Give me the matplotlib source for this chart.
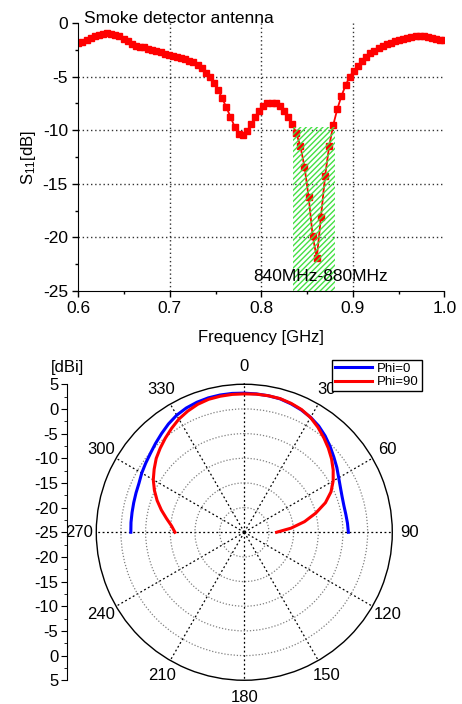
import numpy as np
import matplotlib
matplotlib.use("Agg")
import matplotlib.pyplot as plt
from matplotlib.patches import Rectangle
from matplotlib.ticker import MultipleLocator

plt.rcParams['font.family'] = ['Liberation Sans', 'DejaVu Sans']
plt.rcParams['mathtext.fontset'] = 'custom'
plt.rcParams['mathtext.rm'] = 'Liberation Sans'
plt.rcParams['mathtext.it'] = 'Liberation Sans:italic'
plt.rcParams['axes.unicode_minus'] = False
plt.rcParams['hatch.linewidth'] = 1.0

# --- S11 sweep (0.6-1.0 GHz, 90 points) ---
freq_ghz = np.linspace(0.6, 1.0, 90)
s11_db = [
    -1.90, -1.75, -1.60, -1.42, -1.25, -1.10, -0.98, -0.95, -0.98, -1.08,
    -1.25, -1.45, -1.70, -1.95, -2.12, -2.20, -2.28, -2.38, -2.50, -2.60,
    -2.72, -2.85, -2.97, -3.08, -3.20, -3.30, -3.40, -3.50, -3.65, -3.90,
    -4.23, -4.64, -5.07, -5.63, -6.25, -7.03, -7.87, -8.74, -9.67, -10.38,
    -10.45, -10.07, -9.45, -8.74, -8.18, -7.74, -7.49, -7.43, -7.49, -7.74,
    -8.18, -8.74, -9.43, -10.27, -11.50, -13.40, -16.20, -19.90, -21.90, -18.10,
    -14.30, -11.50, -9.50, -8.00, -6.80, -5.80, -5.00, -4.45, -3.98, -3.50,
    -3.14, -2.83, -2.58, -2.36, -2.15, -1.98, -1.86, -1.72, -1.58, -1.46,
    -1.37, -1.30, -1.24, -1.21, -1.23, -1.28, -1.36, -1.45, -1.55, -1.62,
]
band_ghz = [0.835, 0.8805]
band_top_db = -9.7
band_label = "840MHz-880MHz"
title_text = "Smoke detector antenna"

# --- radiation pattern (dBi) ---
theta_deg = list(range(-90, 95, 5))
phi0_dbi = [
    -2.00, -1.95, -1.90, -1.80, -1.65, -1.45, -1.00, -0.60, -0.15, 0.45,
    1.10, 1.80, 2.40, 2.80, 3.05, 3.20, 3.25, 3.25, 3.20, 3.15,
    3.10, 3.00, 2.70, 2.35, 1.90, 1.30, 0.50, -0.40, -1.30, -2.10,
    -2.90, -3.50, -3.90, -4.10, -4.10, -4.00, -3.90,
]
phi90_dbi = [
    -10.95, -10.20, -9.00, -7.60, -6.20, -4.90, -3.70, -2.70, -1.70, -0.90,
    -0.10, 0.70, 1.50, 2.10, 2.60, 2.90, 3.00, 3.05, 3.05, 3.10,
    3.10, 3.05, 2.80, 2.45, 1.85, 1.00, 0.05, -0.90, -1.90, -3.00,
    -4.20, -5.60, -7.50, -10.00, -12.60, -15.50, -18.45,
]
angle_ticks = list(range(0, 360, 30))
ring_levels = [-20, -15, -10, -5, 0]
side_ticks = list(range(-30, 31, 5))

fig = plt.figure(figsize=(4.62, 7.04), dpi=100)

# ---------------- top: S11 ----------------
ax1 = fig.add_axes([0.1695, 0.5866, 0.7922, 0.3807])
ax1.plot(freq_ghz, s11_db, '-s', color='red', lw=1.3, ms=3.7,
         mec='red', mfc='red', zorder=2)
ax1.add_patch(Rectangle((band_ghz[0], -25), band_ghz[1] - band_ghz[0],
                        band_top_db + 25, fill=False, hatch='//////',
                        edgecolor='#44e044', linewidth=0, zorder=3))
ax1.set_xlim(0.6, 1.0)
ax1.set_ylim(-25, 0)
ax1.set_xticks([0.6, 0.7, 0.8, 0.9, 1.0])
ax1.set_xticklabels(['0.6', '0.7', '0.8', '0.9', '1.0'])
ax1.xaxis.set_minor_locator(MultipleLocator(0.05))
ax1.set_yticks([0, -5, -10, -15, -20, -25])
ax1.yaxis.set_minor_locator(MultipleLocator(2.5))
for v in [0.7, 0.8, 0.9]:
    ax1.axvline(v, color='#333333', ls=(0, (1, 2)), lw=1.0, zorder=1)
for v in [-5, -10, -15, -20]:
    ax1.axhline(v, color='#333333', ls=(0, (1, 2)), lw=1.0, zorder=1)
for s in ['top', 'right']:
    ax1.spines[s].set_visible(False)
ax1.tick_params(which='major', direction='out', length=4, width=1,
                labelsize=12.5)
ax1.tick_params(which='minor', direction='out', length=2.5, width=1)
ax1.set_xlabel('Frequency [GHz]', fontsize=12, labelpad=10)
ax1.set_ylabel('S$_{11}$[dB]', fontsize=12, labelpad=3)
ax1.text(0.6062, 0.42, title_text, fontsize=12.5, ha='left', va='center',
         clip_on=False)
ax1.text(0.7913, -23.6, band_label, fontsize=12.5, ha='left', va='center')

# ---------------- bottom: polar pattern ----------------
axp = fig.add_axes([0.2084, 0.0337, 0.6407, 0.4205], projection='polar')
axp.set_theta_zero_location('N')
axp.set_theta_direction(-1)
th = np.deg2rad(theta_deg)
axp.plot(th, phi0_dbi, color='blue', lw=2.2, label='Phi=0')
axp.plot(th, phi90_dbi, color='red', lw=2.2, label='Phi=90')
axp.set_ylim(-25, 5)
axp.set_rgrids(ring_levels, labels=[''] * len(ring_levels))
axp.set_thetagrids(angle_ticks, labels=[str(a) for a in angle_ticks])
axp.xaxis.grid(True, color='black', ls=(0, (1.5, 2)), lw=0.9)
axp.yaxis.grid(True, color='gray', ls=(0, (1, 1.5)), lw=0.9)
axp.tick_params(axis='x', labelsize=12, pad=2)
axp.spines['polar'].set_linewidth(1.0)
axp.legend(loc='upper right', bbox_to_anchor=(421.7 / 462, 1 - 360 / 704),
           bbox_transform=fig.transFigure, fontsize=9.5, fancybox=False,
           edgecolor='black', framealpha=1, handlelength=2.8,
           borderaxespad=0, borderpad=0.2, labelspacing=0.1,
           handletextpad=0.4)

# side scale in dBi
axl = fig.add_axes([66.7 / 462, 0.0337, 0.001, 0.4205])
axl.set_facecolor('none')
for s in ['top', 'right', 'bottom']:
    axl.spines[s].set_visible(False)
axl.set_xticks([])
axl.set_ylim(-30, 30)
axl.set_yticks(side_ticks)
axl.set_yticklabels([str(abs(v) - 25) for v in side_ticks])
axl.yaxis.set_minor_locator(MultipleLocator(2.5))
axl.tick_params(which='major', direction='out', length=4, labelsize=12,
                pad=2)
axl.tick_params(which='minor', direction='out', length=2.5)
fig.text(68 / 462, 1 - 367 / 704, '[dBi]', fontsize=12, ha='center',
         va='center')

fig.savefig('out.png', dpi=100)
